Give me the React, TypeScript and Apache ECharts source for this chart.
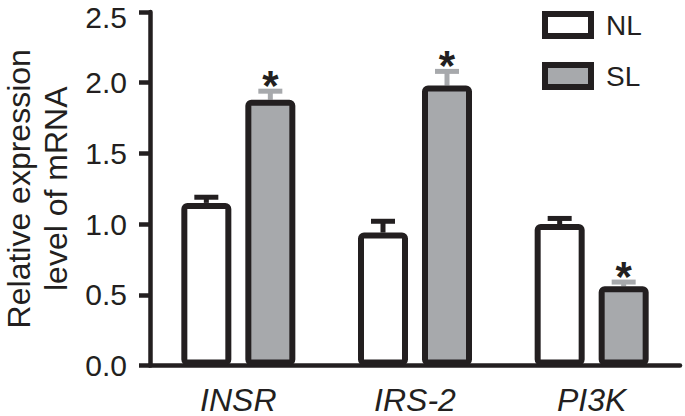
import React, { useEffect, useRef } from 'react';
import * as echarts from 'echarts';

const categories = ['INSR', 'IRS-2', 'PI3K'];
const nlValues = [1.15, 0.94, 1.0];
const nlErrors = [0.04, 0.08, 0.04];
const slValues = [1.88, 1.98, 0.56];
const slErrors = [0.06, 0.1, 0.03];
const slSignificant = [true, true, true];
const seriesNames = ['NL', 'SL'];
const yTitle = 'Relative expression\nlevel of mRNA';
const Y_MAX = 2.5;

const BLACK = '#231f20';
const GRAY = '#a7a9ac';
const FONT = 'Liberation Sans, Arial, Helvetica, sans-serif';
const BAR_WIDTH = 50;
const BAR_GAP = 0.28;
const OFFSET = (BAR_WIDTH * (1 + BAR_GAP)) / 2;

function errorSeries(values: number[], errors: number[], color: string, offset: number, stars: boolean[] | null) {
  return {
    type: 'custom',
    name: 'err' + offset,
    z: 1,
    silent: true,
    data: values.map((v, i) => [i, v, errors[i], stars && stars[i] ? 1 : 0]),
    encode: { x: 0, y: 1 },
    renderItem: (params: any, api: any) => {
      const i = api.value(0);
      const v = api.value(1);
      const e = api.value(2);
      const s = api.value(3);
      const base = api.coord([i, v]);
      const top = api.coord([i, v + e]);
      const x = base[0] + offset;
      const children: any[] = [
        { type: 'line', shape: { x1: x, y1: base[1], x2: x, y2: top[1] }, style: { stroke: color, lineWidth: 5 } },
        { type: 'line', shape: { x1: x - 12, y1: top[1], x2: x + 12, y2: top[1] }, style: { stroke: color, lineWidth: 5 } },
      ];
      if (s) {
        children.push({
          type: 'text',
          style: {
            text: '*',
            x,
            y: top[1] - 6,
            fill: BLACK,
            font: `bold 42px ${FONT}`,
            textAlign: 'center',
            textVerticalAlign: 'middle',
          },
        });
      }
      return { type: 'group', children };
    },
  };
}

export default function App() {
  const ref = useRef<HTMLDivElement>(null);
  useEffect(() => {
    if (!ref.current) return;
    const chart = echarts.init(ref.current, null, { renderer: 'svg' });
    chart.setOption({
      animation: false,
      backgroundColor: '#ffffff',
      grid: { left: 150, right: 5, top: 12, bottom: 50.5, containLabel: false, outerBoundsMode: 'none' },
      legend: {
        orient: 'vertical',
        left: 542,
        top: 10,
        padding: 0,
        itemWidth: 46,
        itemHeight: 22,
        itemGap: 21,
        icon: 'rect',
        data: [
          { name: seriesNames[0], itemStyle: { color: '#ffffff', borderColor: BLACK, borderWidth: 6 } },
          { name: seriesNames[1], itemStyle: { color: GRAY, borderColor: BLACK, borderWidth: 6 } },
        ],
        textStyle: { fontSize: 28, fontFamily: FONT, color: BLACK, padding: [0, 0, 0, 10], lineHeight: 30 },
      },
      xAxis: {
        type: 'category',
        data: categories,
        axisLine: { lineStyle: { color: BLACK, width: 4.5 } },
        axisTick: { alignWithLabel: true, length: 11, lineStyle: { color: BLACK, width: 4.5 } },
        axisLabel: { fontSize: 32, fontStyle: 'italic', fontFamily: FONT, color: BLACK, margin: 18 },
      },
      yAxis: {
        type: 'value',
        min: 0,
        max: Y_MAX,
        interval: 0.5,
        splitLine: { show: false },
        axisLine: { show: true, lineStyle: { color: BLACK, width: 4.5 } },
        axisTick: { show: true, length: 11, lineStyle: { color: BLACK, width: 4.5 } },
        axisLabel: {
          fontSize: 30,
          lineHeight: 24,
          fontFamily: FONT,
          color: BLACK,
          margin: 23,
          formatter: (v: number) => (v >= Y_MAX ? `{top|${v.toFixed(1)}}` : v.toFixed(1)),
          rich: {
            top: { fontSize: 30, lineHeight: 24, fontFamily: FONT, color: BLACK, padding: [10, 0, 0, 0] },
          },
        },
        name: yTitle,
        nameLocation: 'middle',
        nameRotate: 90,
        nameGap: 76,
        nameTextStyle: { fontSize: 32, fontFamily: FONT, color: BLACK, lineHeight: 37 },
      },
      series: [
        {
          type: 'bar',
          name: seriesNames[0],
          data: nlValues,
          barWidth: BAR_WIDTH,
          barGap: BAR_GAP * 100 + '%',
          z: 2,
          itemStyle: { color: '#ffffff', borderColor: BLACK, borderWidth: 6, borderRadius: 3 },
        },
        {
          type: 'bar',
          name: seriesNames[1],
          data: slValues,
          barWidth: BAR_WIDTH,
          barGap: BAR_GAP * 100 + '%',
          z: 2,
          itemStyle: { color: GRAY, borderColor: BLACK, borderWidth: 6, borderRadius: 3 },
        },
        errorSeries(nlValues, nlErrors, BLACK, -OFFSET, null),
        errorSeries(slValues, slErrors, GRAY, OFFSET, slSignificant),
      ],
    });
    return () => chart.dispose();
  }, []);
  return <div ref={ref} style={{ position: 'absolute', left: 0, top: 0, width: 685, height: 416 }} />;
}
